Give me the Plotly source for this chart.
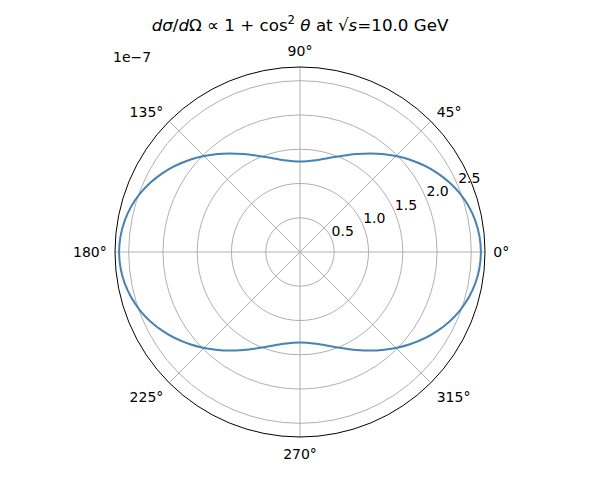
import plotly.graph_objects as go

# scattering angle (deg) and dσ/dΩ in units of 1e-7
theta_deg = [0, 10, 20, 30, 40, 50, 60, 70, 80, 90, 100, 110, 120, 130, 140, 150, 160, 170, 180,
             190, 200, 210, 220, 230, 240, 250, 260, 270, 280, 290, 300, 310, 320, 330, 340, 350, 360]
dsigma = [2.64, 2.60, 2.486, 2.31, 2.095, 1.865, 1.65, 1.474, 1.36, 1.32, 1.36, 1.474, 1.65, 1.865,
          2.095, 2.31, 2.486, 2.60, 2.64, 2.60, 2.486, 2.31, 2.095, 1.865, 1.65, 1.474, 1.36, 1.32,
          1.36, 1.474, 1.65, 1.865, 2.095, 2.31, 2.486, 2.60, 2.64]

r_ticks = [0.5, 1.0, 1.5, 2.0, 2.5]
angle_ticks = [0, 45, 90, 135, 180, 225, 270, 315]
angle_labels = [f"{a}°" for a in angle_ticks]

# page body has an 8px margin, so place things 8px up/left of where they should appear
W, H, OFF = 600, 480, 8
CX, CY, R = 300 - OFF, 252 - OFF, 185
LBL_UP, LBL_LEFT = 17, 3  # radial labels sit above the ring crossings, like matplotlib

fig = go.Figure()
fig.add_trace(go.Scatterpolar(
    r=dsigma,
    theta=theta_deg,
    mode='lines',
    line=dict(color='#4682b4', width=2, shape='spline'),
    showlegend=False,
))
# empty trace so the overlay subplot (radial tick labels only) gets drawn
fig.add_trace(go.Scatterpolar(r=[], theta=[], subplot='polar2', showlegend=False, hoverinfo='skip'))

fig.update_layout(
    width=W, height=H,
    margin=dict(l=0, r=0, t=0, b=0),
    paper_bgcolor='white',
    font=dict(family='DejaVu Sans', size=14, color='black'),
    title=dict(
        text='<i>dσ</i>/<i>d</i>Ω ∝ 1 + cos<sup>2</sup> <i>θ</i> at √<i>s</i>=10.0 GeV',
        x=CX / W, xanchor='center', y=1 - (25 - OFF) / H, yanchor='middle',
        font=dict(size=16.7),
    ),
    polar=dict(
        domain=dict(x=[0, 2 * CX / W], y=[1 - (CY + R) / H, 1 - (CY - R) / H]),
        bgcolor='white',
        angularaxis=dict(
            direction='counterclockwise', rotation=0,
            tickmode='array', tickvals=angle_ticks, ticktext=angle_labels,
            showline=True, linecolor='black', linewidth=1,
            gridcolor='#b0b0b0', gridwidth=1,
            ticks='outside', ticklen=5, tickcolor='rgba(0,0,0,0)',
        ),
        radialaxis=dict(
            range=[0, 2.70], angle=22.5, tickvals=r_ticks,
            showticklabels=False, showline=False, ticks='',
            gridcolor='#b0b0b0', gridwidth=1,
        ),
    ),
    polar2=dict(
        domain=dict(x=[0, 2 * (CX - LBL_LEFT) / W],
                    y=[1 - (CY - LBL_UP + R) / H, 1 - (CY - LBL_UP - R) / H]),
        bgcolor='rgba(0,0,0,0)',
        angularaxis=dict(showline=False, showgrid=False, showticklabels=False, ticks=''),
        radialaxis=dict(
            range=[0, 2.70], angle=22.5, tickangle=22.5, side='clockwise',
            tickmode='array', tickvals=r_ticks, ticktext=[f"{v:.1f}" for v in r_ticks],
            showline=False, showgrid=False, ticks='',
        ),
    ),
    annotations=[dict(
        text='1e−7', x=(132 - OFF) / W, y=1 - (57 - OFF) / H, xref='paper', yref='paper',
        xanchor='center', yanchor='middle', showarrow=False, font=dict(size=14),
    )],
)

fig.write_html("out.html")
